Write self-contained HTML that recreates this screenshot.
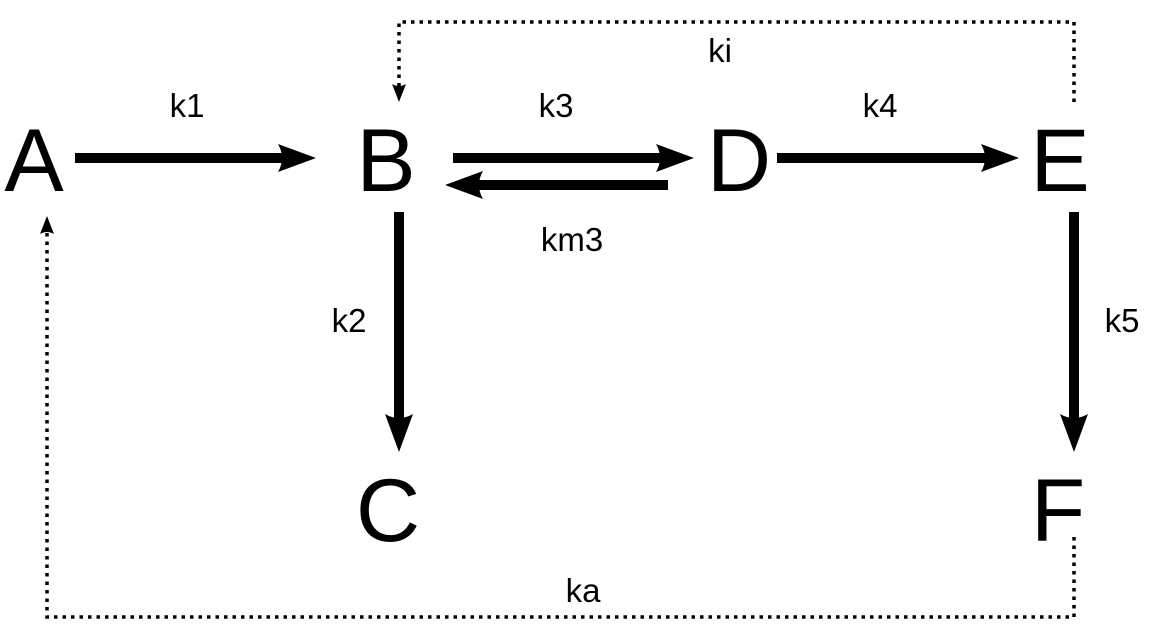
<!DOCTYPE html>
<html><head><meta charset="utf-8"><style>
html,body{margin:0;padding:0;background:#fff;}
svg{display:block;}
text{font-family:"Liberation Sans",sans-serif;fill:#000;}
</style></head><body>
<svg width="1159" height="642" viewBox="0 0 1159 642">
<g stroke="#000" stroke-width="10" fill="none">
<line x1="75" y1="158" x2="284" y2="158"/>
<line x1="453" y1="158" x2="662" y2="158"/>
<line x1="668" y1="185" x2="477" y2="185"/>
<line x1="777" y1="158" x2="987" y2="158"/>
<line x1="399" y1="212" x2="399" y2="420"/>
<line x1="1074" y1="212" x2="1074" y2="420"/>
</g>
<g fill="#000">
<path d="M316,158 L278,144 Q286,158 278,172 Z"/>
<path d="M694,158 L656,144 Q664,158 656,172 Z"/>
<path d="M445,185 L483,171 Q475,185 483,199 Z"/>
<path d="M1019,158 L981,144 Q989,158 981,172 Z"/>
<path d="M399,452 L385,414 Q399,422 413,414 Z"/>
<path d="M1074,452 L1060,414 Q1074,422 1088,414 Z"/>
<path d="M399,102 L392,84 Q399,88 406,84 Z"/>
<path d="M47,216 L40,234 Q47,230 54,234 Z"/>
</g>
<g stroke="#000" stroke-width="3.5" fill="none" stroke-dasharray="3.5 5">
<polyline points="1074,102 1074,22 399,22 399,88"/>
<polyline points="1074,537 1074,617 47,617 47,230"/>
</g>
<g font-size="89" text-anchor="middle">
<text x="34" y="191">A</text>
<text x="386" y="191">B</text>
<text x="739" y="191">D</text>
<text x="1060" y="191">E</text>
<text x="388" y="541">C</text>
<text x="1058" y="541">F</text>
</g>
<g font-size="33" text-anchor="middle">
<text x="187" y="117">k1</text>
<text x="556" y="117">k3</text>
<text x="880" y="117">k4</text>
<text x="720" y="62">ki</text>
<text x="572" y="251">km3</text>
<text x="349" y="332">k2</text>
<text x="1122" y="332">k5</text>
<text x="583" y="602">ka</text>
</g>
</svg>
</body></html>
